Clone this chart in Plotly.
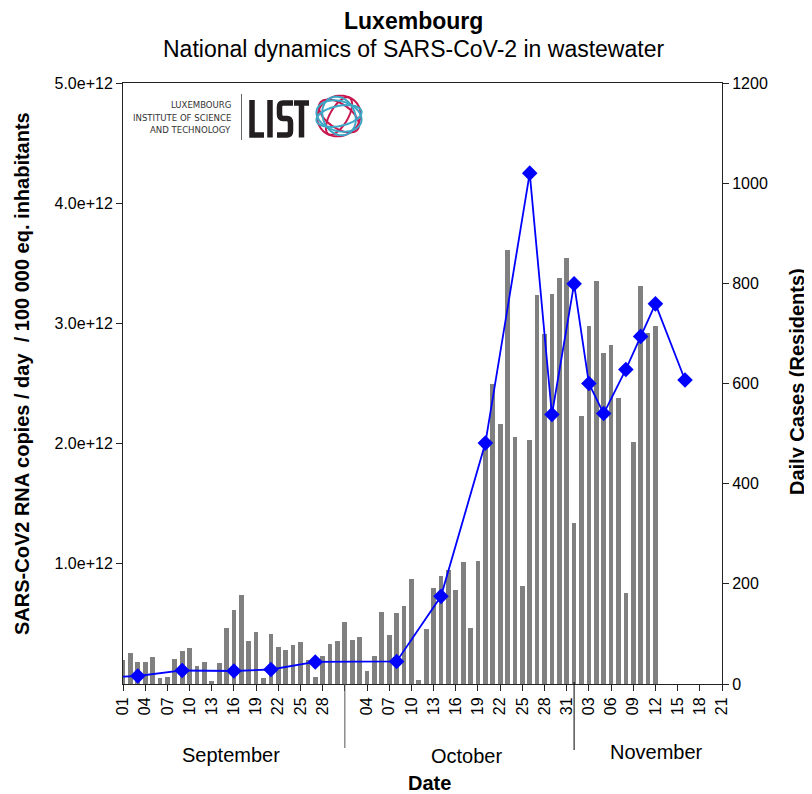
"""Luxembourg: SARS-CoV-2 in wastewater vs daily cases (LIST style chart)."""
import numpy as np
import pandas as pd
import plotly.graph_objects as go

# ── data ────────────────────────────────────────────────────────────────────
# wastewater load, 1e12 copies/day/100 000 eq. inhabitants, daily Sep 1 .. Nov 12
ww_dates = pd.date_range('2020-09-01', '2020-11-12', freq='D')
ww_sep = [0.20, 0.254, 0.18, 0.18, 0.227, 0.048, 0.062, 0.204, 0.277, 0.296,
          0.152, 0.187, 0.029, 0.171, 0.462, 0.612, 0.743, 0.36, 0.435, 0.046,
          0.42, 0.312, 0.282, 0.321, 0.352, 0.196, 0.062, 0.235, 0.329, 0.36]
ww_oct = [0.512, 0.368, 0.387, 0.11, 0.229, 0.601, 0.41, 0.587, 0.646, 0.871,
          0.037, 0.454, 0.796, 0.896, 0.946, 0.779, 1.013, 0.468, 1.021, 2.02,
          2.493, 2.163, 3.607, 2.057, 0.818, 2.029, 3.235, 2.912, 3.248, 3.376,
          3.543]
ww_nov = [1.337, 2.229, 2.982, 3.352, 2.754, 2.821, 2.382, 0.754, 2.012, 3.312,
          2.924, 2.979]
ww_values = [v * 1e12 for v in ww_sep + ww_oct + ww_nov]

# daily cases (residents)
cases_dates = ['2020-08-27', '2020-09-03', '2020-09-09', '2020-09-16',
               '2020-09-21', '2020-09-27', '2020-10-08', '2020-10-14',
               '2020-10-20', '2020-10-26', '2020-10-29', '2020-11-01',
               '2020-11-03', '2020-11-05', '2020-11-08', '2020-11-10',
               '2020-11-12', '2020-11-16']
cases_values = [11, 16, 27, 26, 29, 44, 45, 175, 481, 1020, 538, 799, 600,
                540, 628, 694, 759, 607]

# x ticks every 3 days, Oct 1 label hidden behind the month divider
tick_dates = pd.date_range('2020-09-01', '2020-11-21', freq='3D')
tick_text = ['' if d == pd.Timestamp('2020-10-01') else d.strftime('%d')
             for d in tick_dates]
left_ticks = [1e12, 2e12, 3e12, 4e12, 5e12]
months = ['September', 'October', 'November']

# ── geometry helpers ───────────────────────────────────────────────────────
# the page body adds an 8px margin, so the figure is 8px smaller than the
# window; positions below are given in window pixels
W, H = 804, 786
L, R, T, B = 115, 90, 75, 110
PW, PH = W - L - R, H - T - B
X0, Y1 = 123, 684          # plot left / bottom in window pixels


def px(x):
    return (x - X0) / PW


def py(y):
    return (Y1 - y) / PH


def path(points):
    return 'M ' + ' L '.join(f'{px(x):.5f},{py(y):.5f}' for x, y in points)


def ellipse(cx, cy, rx, ry, ang):
    t = np.linspace(0, 2 * np.pi, 73)
    a = np.radians(ang)
    xs = cx + rx * np.cos(t) * np.cos(a) - ry * np.sin(t) * np.sin(a)
    ys = cy + rx * np.cos(t) * np.sin(a) + ry * np.sin(t) * np.cos(a)
    return path(zip(xs, ys)) + ' Z'


FONT = 'Liberation Sans, Arial, sans-serif'

fig = go.Figure()
fig.add_trace(go.Bar(
    x=ww_dates, y=ww_values,
    width=0.64 * 86400000,
    marker=dict(color='#808080', line=dict(width=0)),
    hovertemplate='%{x|%d %b}: %{y:.2e}<extra></extra>',
))
fig.add_trace(go.Scatter(
    x=cases_dates, y=cases_values, yaxis='y2',
    mode='lines+markers',
    line=dict(color='#0000ff', width=1.8),
    marker=dict(symbol='diamond', size=12, color='#0000ff'),
    hovertemplate='%{x|%d %b}: %{y}<extra></extra>',
))

axis_common = dict(showline=True, linecolor='#222', linewidth=1,
                   ticks='outside', ticklen=6, tickcolor='#222',
                   showgrid=False, zeroline=False,
                   tickfont=dict(family=FONT, size=16, color='black'))

fig.update_layout(
    width=W, height=H,
    margin=dict(l=L, r=R, t=T, b=B),
    paper_bgcolor='white', plot_bgcolor='white',
    showlegend=False, bargap=0,
    font=dict(family=FONT, color='black'),
    xaxis=dict(axis_common, type='date', mirror=True,
               range=['2020-09-01', '2020-11-21'],
               tickvals=tick_dates, ticktext=tick_text, tickangle=-90),
    yaxis=dict(axis_common, range=[0, 5e12], tickvals=left_ticks,
               tickformat='.1e'),
    yaxis2=dict(axis_common, overlaying='y', side='right',
                range=[0, 1200], dtick=200),
)

ann = [
    dict(text='<b>Luxembourg</b>', x=px(413), y=py(21), size=23),
    dict(text='National dynamics of SARS-CoV-2 in wastewater',
         x=px(413), y=py(49), size=23),
    dict(text='<b>SARS-CoV2 RNA copies / day  / 100 000 eq. inhabitants</b>',
         x=px(22), y=py(374), size=20, angle=-90),
    dict(text='<b>Daily Cases (Residents)</b>', x=px(797), y=py(382),
         size=20, angle=-90),
    dict(text='<b>Date</b>', x=px(429), y=py(783), size=20),
    dict(text=months[0], x=px(231), y=py(755), size=20),
    dict(text=months[1], x=px(466), y=py(756), size=20),
    dict(text=months[2], x=px(656), y=py(752), size=20),
]
for a in ann:
    fig.add_annotation(
        text=a['text'], x=a['x'], y=a['y'], xref='paper', yref='paper',
        showarrow=False, textangle=a.get('angle', 0),
        xanchor='center', yanchor='middle',
        font=dict(family=FONT, size=a['size'], color='black'),
    )

# month dividers below the axis
fig.add_shape(type='line', xref='x', yref='paper', x0='2020-10-01',
              x1='2020-10-01', y0=0, y1=py(748),
              line=dict(color='#555', width=1))
fig.add_shape(type='line', xref='x', yref='paper', x0='2020-11-01',
              x1='2020-11-01', y0=py(682), y1=py(750),
              line=dict(color='black', width=1))

# ── LIST logo ──────────────────────────────────────────────────────────────
for i, line in enumerate(['LUXEMBOURG', 'INSTITUTE OF SCIENCE',
                          'AND TECHNOLOGY']):
    fig.add_annotation(
        text=line, x=px(233), y=py(105 + 12.2 * i), xref='paper',
        yref='paper', showarrow=False, xanchor='right', yanchor='middle',
        font=dict(family='Liberation Sans Narrow, DejaVu Sans Condensed, '
                         'Liberation Sans', size=9.5, color='#333'),
    )
fig.add_shape(type='line', xref='paper', yref='paper', x0=px(241.5),
              x1=px(241.5), y0=py(94), y1=py(140),
              line=dict(color='#666', width=1))

ink = dict(color='#231f20', width=5.5)
letters = [
    path([(252, 100), (252, 135), (264, 135)]),                   # L
    path([(270, 100), (270, 137.5)]),                             # I
    (f'M {px(293):.5f},{py(103):.5f} L {px(283):.5f},{py(103):.5f} '
     f'Q {px(279.5):.5f},{py(103):.5f} {px(279.5):.5f},{py(107):.5f} '
     f'L {px(279.5):.5f},{py(114):.5f} '
     f'Q {px(279.5):.5f},{py(118.5):.5f} {px(283):.5f},{py(118.5):.5f} '
     f'L {px(287):.5f},{py(118.5):.5f} '
     f'Q {px(290.5):.5f},{py(118.5):.5f} {px(290.5):.5f},{py(123):.5f} '
     f'L {px(290.5):.5f},{py(131):.5f} '
     f'Q {px(290.5):.5f},{py(135):.5f} {px(287):.5f},{py(135):.5f} '
     f'L {px(277):.5f},{py(135):.5f}'),                           # S
    path([(294, 103), (309, 103)]),                               # T
    path([(301.5, 103), (301.5, 137.5)]),
]
for p in letters:
    fig.add_shape(type='path', xref='paper', yref='paper', path=p, line=ink)

cx, cy = 339, 116
rings = [
    (23, 12, 35, '#c8174f'), (22, 20, -25, '#c8174f'), (21, 9, -60, '#c8174f'),
    (23, 10, -12, '#3ba6c6'), (20, 16, 65, '#3ba6c6'), (23, 15, 15, '#3ba6c6'),
]
for rx, ry, ang, col in rings:
    fig.add_shape(type='path', xref='paper', yref='paper',
                  path=ellipse(cx, cy, rx, ry, ang),
                  line=dict(color=col, width=2))

fig.write_html('out.html')
